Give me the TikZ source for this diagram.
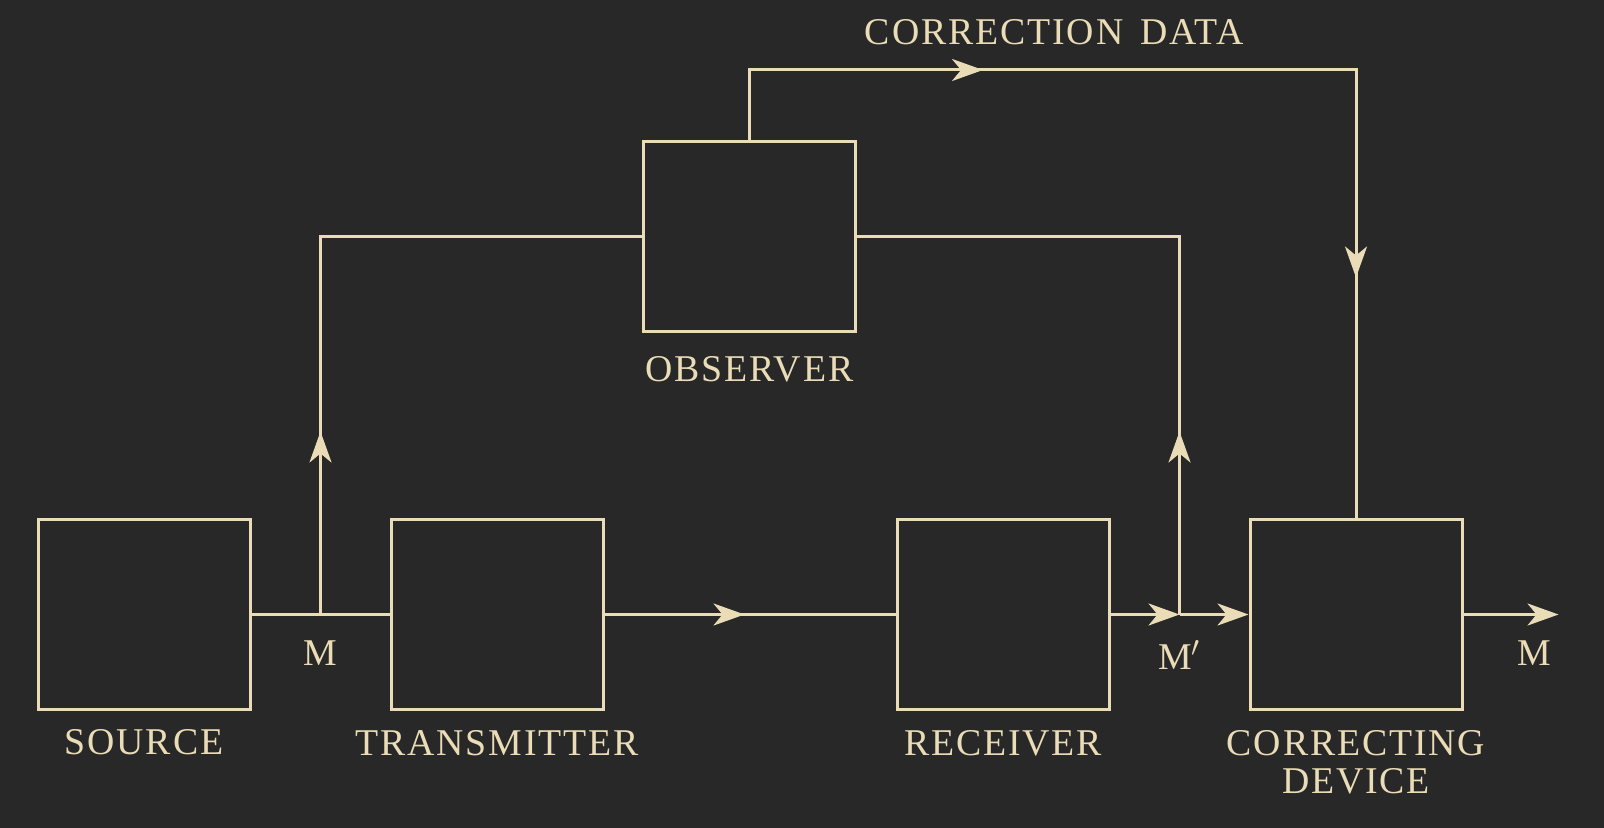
\documentclass[tikz,border=0pt]{standalone}
\usepackage{fontspec}
\setmainfont{Liberation Serif}[LetterSpace=5, WordSpace=1.5]
\usepackage{tikz}
\usetikzlibrary{arrows.meta,positioning,calc,decorations.markings}
\definecolor{ink}{HTML}{EADCB6}
\definecolor{paper}{HTML}{282828}
\tikzset{flowtip/.tip={Stealth[length=15.5pt, width=11pt, inset=4.5pt]}}
\tikzstyle{block} = [draw=ink, line width=1.5pt, minimum width=106pt, minimum height=95pt]
\tikzstyle{line} = [draw=ink, line width=1.5pt]
\tikzstyle{arrow} = [line, -flowtip]
\tikzstyle{caption} = [inner sep=0pt, align=center]
\tikzset{midarrow/.style={line, postaction={decorate},
    decoration={markings, mark=at position #1 with {\arrow{flowtip}}}}}

\begin{document}
\begin{tikzpicture}[node distance=176.5pt, every node/.style={font=\fontsize{18.9}{19}\selectfont, text=ink}]
		\fill [paper] (0,0) rectangle (802pt,-414pt);
		\useasboundingbox (0,0) rectangle (802pt,-414pt);
		
		\node (source) [block] at (72pt,-307.25pt) {};
		\node (trans) [block, right of=source] {};
		\node (recv) [block, right of=trans, xshift=76.5pt] {};
		\node (corr) [block, right of=recv] {};
		\node (obs) [block, above of=trans, xshift=126.25pt, yshift=12.5pt] {};
		
		\node (sourcelabel) [caption, below=9pt of source] {SOURCE};
		\node (translabel) [caption, below=9.5pt of trans] {TRANSMITTER};
		\node (recvlabel) [caption, below=9.5pt of recv] {RECEIVER};
		\node (corrlabel) [caption, below=9.5pt of corr] {CORRECTING\\DEVICE};
		\node (obslabel) [caption, below=11.5pt of obs] {OBSERVER};
		
		\coordinate (m) at ($(source.east)!0.5!(trans.west)$);
		\coordinate (mp) at ($(recv.east)!0.5!(corr.west)$);
		\coordinate [right=47.5pt of corr.east] (out);
		\coordinate [above=35pt of obs.north] (cd);
		
		\draw [line] (source) -- (trans);
		\draw [midarrow=91.5pt] (m) |- (obs.west);
		\draw [midarrow=70pt] (trans) -- (recv);
		\draw [arrow] (recv) -- (mp);
		\draw [arrow] (mp) -- (corr);
		\draw [midarrow=91.5pt] (mp) |- (obs.east);
		\draw [line, postaction={decorate}, decoration={markings,
			mark=at position 151.75pt with {\arrow{flowtip}},
			mark=at position 442pt with {\arrow{flowtip}}}] (obs) -- (cd) -| (corr);
		\draw [arrow] (corr) -- (out);
		
		\node (mlabel) [caption, below=25.5pt of m, anchor=base] {M};
		\node (mplabel) [caption, below=27.5pt of mp, anchor=base] {M$'$};
		\node (outlabel) [caption, below=25.5pt of out, anchor=base, xshift=-12pt] {M};
		\node (cdlabel) [caption, above=12.75pt of cd, anchor=base west, xshift=57.5pt] {CORRECTION DATA};
	\end{tikzpicture}
\end{document}
